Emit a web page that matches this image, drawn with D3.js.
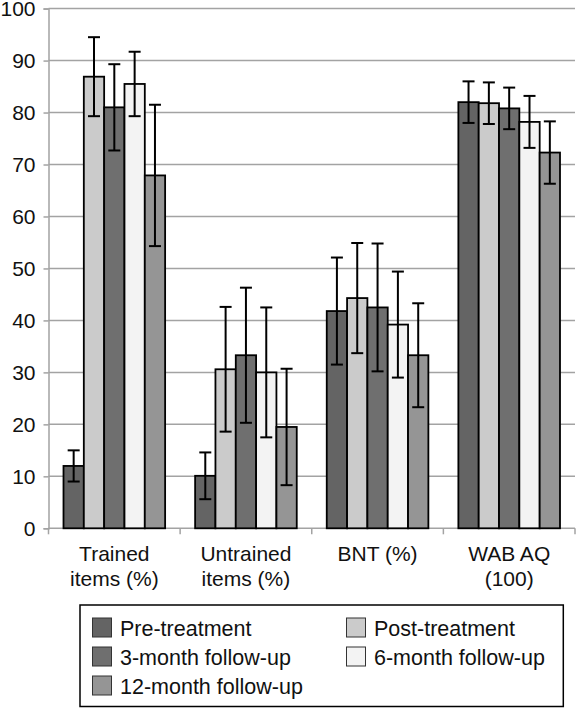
<!DOCTYPE html>
<html>
<head>
<meta charset="utf-8">
<script src="https://cdn.jsdelivr.net/npm/d3@7"></script>
<style>
  html, body { margin: 0; padding: 0; background: #fff; }
  svg { display: block; font-family: "Liberation Sans", Arial, sans-serif; }
</style>
</head>
<body>
<svg id="chart" width="576" height="708"></svg>
<script>
// ---- Data ----
const categories = ["Trained items (%)", "Untrained items (%)", "BNT (%)", "WAB AQ (100)"];
const categoryLines = [["Trained", "items (%)"], ["Untrained", "items (%)"], ["BNT (%)"], ["WAB AQ", "(100)"]];
const seriesNames = ["Pre-treatment", "Post-treatment", "3-month follow-up", "6-month follow-up", "12-month follow-up"];
const seriesColors = ["#646464", "#cbcbcb", "#6f6f6f", "#f3f3f3", "#959595"];

const preValues   = [12.0, 10.1, 41.8, 82.0];
const postValues  = [86.9, 30.6, 44.3, 81.8];
const m3Values    = [81.0, 33.3, 42.5, 80.8];
const m6Values    = [85.5, 30.0, 39.2, 78.2];
const m12Values   = [67.9, 19.5, 33.3, 72.3];

const preErr  = [3.0, 4.5, 10.3, 4.0];
const postErr = [7.6, 12.0, 10.6, 4.0];
const m3Err   = [8.3, 13.0, 12.3, 4.0];
const m6Err   = [6.2, 12.5, 10.2, 5.0];
const m12Err  = [13.6, 11.2, 10.0, 6.0];

const yTicks = [0, 10, 20, 30, 40, 50, 60, 70, 80, 90, 100];

const seriesValues = [preValues, postValues, m3Values, m6Values, m12Values];
const seriesErrors = [preErr, postErr, m3Err, m6Err, m12Err];

// ---- Layout ----
const svg = d3.select("#chart");
const plotLeft = 48.5, plotRight = 575, plotTop = 8.6, plotBottom = 528.3;
const fontSize = 21;

const x0 = d3.scaleBand().domain(categories).range([plotLeft, plotRight]).paddingInner(0).paddingOuter(0);
const groupGap = 15;
const x1 = d3.scaleBand().domain(seriesNames).range([groupGap, x0.bandwidth() - groupGap]).padding(0);
const y = d3.scaleLinear().domain([0, 100]).range([plotBottom, plotTop]);

const gridColor = "#a3a3a3";

// gridlines
svg.append("g").selectAll("line").data(yTicks.filter(d => d > 0)).join("line")
  .attr("x1", plotLeft).attr("x2", plotRight)
  .attr("y1", d => y(d)).attr("y2", d => y(d))
  .attr("stroke", gridColor).attr("stroke-width", 1.5);

// y axis
const yAxis = d3.axisLeft(y).tickValues(yTicks).tickSize(5).tickPadding(8).tickFormat(d3.format("d"));
const gy = svg.append("g").attr("transform", `translate(${plotLeft},0)`).call(yAxis);
gy.select(".domain").attr("stroke", gridColor).attr("stroke-width", 1.5);
gy.selectAll(".tick line").attr("stroke", gridColor).attr("stroke-width", 1.5);
gy.selectAll(".tick text").attr("font-size", fontSize).attr("fill", "#111")
  .attr("font-family", "Liberation Sans, Arial, sans-serif");

// x axis line and boundary ticks
svg.append("line").attr("x1", plotLeft).attr("x2", plotRight).attr("y1", plotBottom).attr("y2", plotBottom)
  .attr("stroke", gridColor).attr("stroke-width", 1.5);
const boundaries = categories.map(c => x0(c)).concat([x0.range()[1]]);
svg.append("g").selectAll("line").data(boundaries).join("line")
  .attr("x1", d => d).attr("x2", d => d)
  .attr("y1", plotBottom).attr("y2", plotBottom + 6)
  .attr("stroke", gridColor).attr("stroke-width", 1.5);

// category labels
const catG = svg.append("g").selectAll("text").data(categories).join("text")
  .attr("x", d => x0(d) + x0.bandwidth() / 2)
  .attr("y", 561)
  .attr("text-anchor", "middle")
  .attr("font-size", fontSize)
  .attr("fill", "#111");
catG.each(function(d, i) {
  const t = d3.select(this);
  categoryLines[i].forEach((line, j) => {
    t.append("tspan").attr("x", x0(d) + x0.bandwidth() / 2).attr("dy", j === 0 ? 0 : 25).text(line);
  });
});

// bars
const barData = [];
categories.forEach((c, ci) => {
  seriesNames.forEach((s, si) => {
    barData.push({ c, s, si, v: seriesValues[si][ci], e: seriesErrors[si][ci] });
  });
});

svg.append("g").selectAll("rect").data(barData).join("rect")
  .attr("x", d => x0(d.c) + x1(d.s))
  .attr("y", d => y(d.v))
  .attr("width", x1.bandwidth())
  .attr("height", d => y(0) - y(d.v))
  .attr("fill", d => seriesColors[d.si])
  .attr("stroke", "#000")
  .attr("stroke-width", 1.8);

// error bars
const capW = 12;
const eb = svg.append("g").attr("stroke", "#000").attr("stroke-width", 2);
barData.forEach(d => {
  const cx = x0(d.c) + x1(d.s) + x1.bandwidth() / 2;
  const ya = y(d.v + d.e), yb = y(d.v - d.e);
  eb.append("line").attr("x1", cx).attr("x2", cx).attr("y1", ya).attr("y2", yb);
  eb.append("line").attr("x1", cx - capW / 2).attr("x2", cx + capW / 2).attr("y1", ya).attr("y2", ya);
  eb.append("line").attr("x1", cx - capW / 2).attr("x2", cx + capW / 2).attr("y1", yb).attr("y2", yb);
});

// legend
const lg = svg.append("g");
lg.append("rect").attr("x", 80).attr("y", 605).attr("width", 483.3).attr("height", 101.5)
  .attr("fill", "#fff").attr("stroke", "#000").attr("stroke-width", 1.5);
const colX = [92.5, 346.5];
const rowY = [618, 647, 676];
seriesNames.forEach((s, i) => {
  const col = i % 2, row = Math.floor(i / 2);
  lg.append("rect").attr("x", colX[col]).attr("y", rowY[row]).attr("width", 19).attr("height", 19)
    .attr("fill", seriesColors[i]).attr("stroke", "#333").attr("stroke-width", 1);
  lg.append("text").attr("x", colX[col] + 27.5).attr("y", rowY[row] + 17.5)
    .attr("font-size", 21.5).attr("fill", "#111").text(s);
});
</script>
</body>
</html>
